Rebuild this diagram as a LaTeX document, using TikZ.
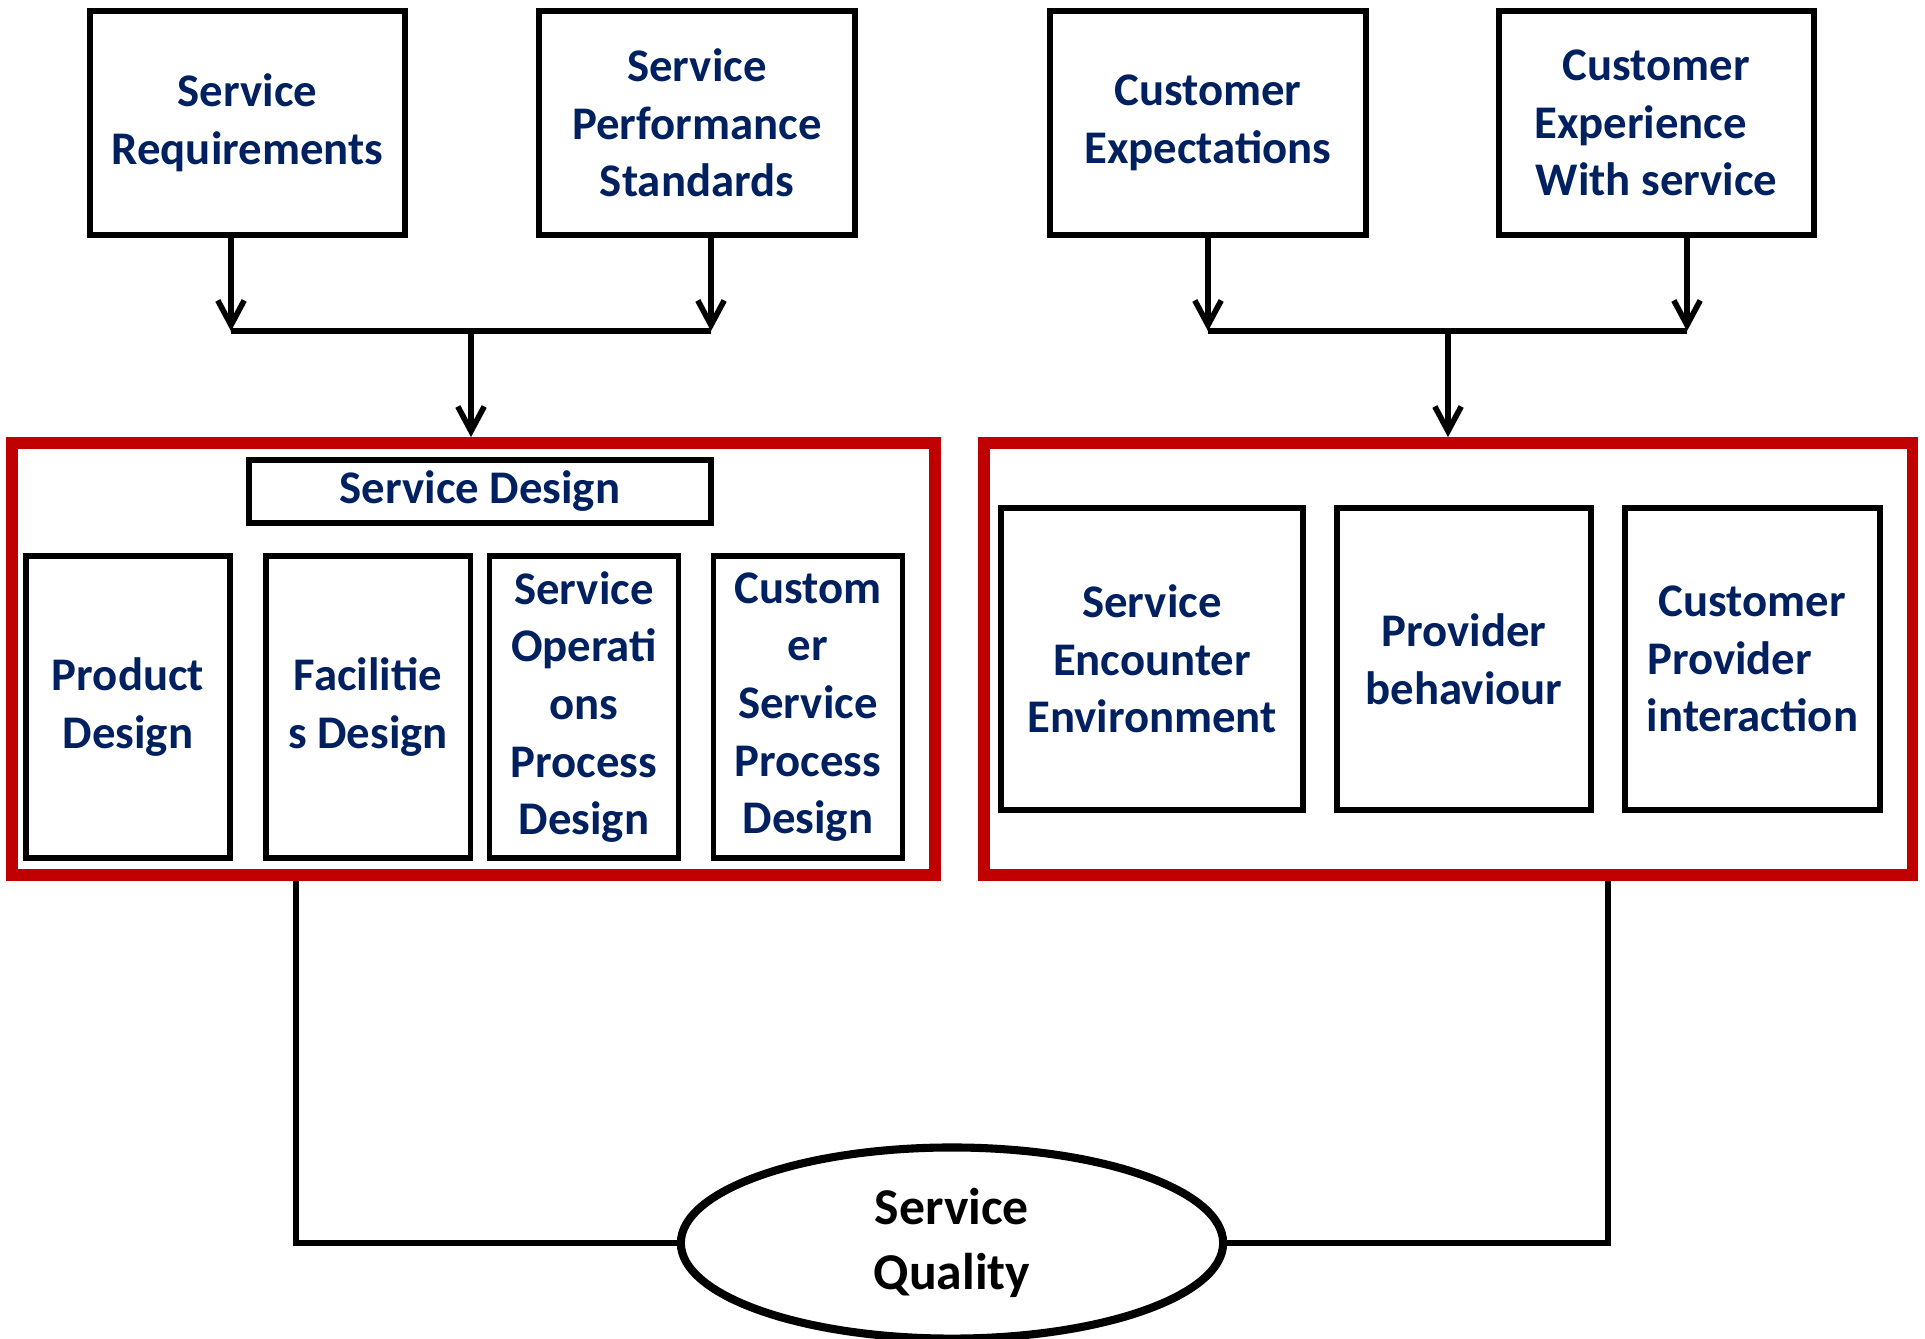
\documentclass[tikz,border=0pt]{standalone}
\usepackage{fontspec}
\setmainfont{Carlito}
\usepackage{tikz}
\usetikzlibrary{arrows.meta,positioning,shapes.geometric}

\definecolor{navy}{HTML}{002060}
\definecolor{framered}{HTML}{C00000}

\tikzset{
  box/.style={draw, line width=1.6pt, align=center, inner sep=0pt, text=navy,
    font=\fontsize{13.3}{16.4}\selectfont\bfseries},
  frame/.style={draw=framered, line width=3.3pt, inner sep=0pt},
  conn/.style={line width=1.6pt},
  arr/.style={conn, -{Straight Barb[length=7pt,width=7.5pt]}}
}

\begin{document}
\begin{tikzpicture}[x=0.01cm,y=-0.01cm]
\useasboundingbox (0,0) rectangle (1925,1338);

% top inputs
\node[box, minimum width=3.15cm, minimum height=2.24cm] (sreq) at (247.5,123) {Service\\Requirements};
\node[box, minimum width=3.16cm, minimum height=2.24cm] (sperf) at (697,123) {Service\\Performance\\Standards};
\node[box, minimum width=3.16cm, minimum height=2.24cm] (cexp) at (1208,123) {Customer\\Expectations};
\node[box, minimum width=3.15cm, minimum height=2.24cm] (cexpw) at (1656.5,123) {Customer\\Experience\rule{9pt}{0pt}\\With service};

% red frames
\node[frame, minimum width=9.23cm, minimum height=4.32cm] (design) at (473.5,659) {};
\node[frame, minimum width=9.28cm, minimum height=4.32cm] (delivery) at (1448,659) {};

% service design side
\node[box, minimum width=4.62cm, minimum height=0.63cm] (sdes) at (480,491.5) {Service Design};
\node[box, minimum width=2.04cm, minimum height=3.02cm] (prod) at (128,707) {Product\\Design};
\node[box, minimum width=2.045cm, minimum height=3.02cm] (facil) at (368,707) {Facilitie\\s Design};
\node[box, minimum width=1.886cm, minimum height=3.02cm] (sops) at (584,707) {Service\\Operati\\ons\\Process\\Design};
\node[box, minimum width=1.886cm, minimum height=3.02cm] (csp) at (808,707) {Custom\\er\\Service\\Process\\Design};

% delivery side
\node[box, minimum width=3.02cm, minimum height=3.02cm] (senc) at (1152,659) {Service\\Encounter\\Environment};
\node[box, minimum width=2.54cm, minimum height=3.02cm] (prov) at (1464,659) {Provider\\behaviour};
\node[box, minimum width=2.55cm, minimum height=3.02cm] (cpi) at (1752.5,659) {Customer\\Provider\rule{13pt}{0pt}\\interaction};

% outcome
\node[draw, ellipse, line width=2.3pt, inner sep=0pt, minimum width=5.42cm, minimum height=1.91cm,
  align=center, font=\fontsize{14.7}{18.4}\selectfont\bfseries] (quality) at (952,1243) {Service\\Quality};

% joins into the frames
\coordinate (jl1) at (231,331);
\coordinate (jl2) at (711,331);
\coordinate (jlm) at (471,331);
\coordinate (jr1) at (1208,331);
\coordinate (jr2) at (1687,331);
\coordinate (jrm) at (1448,331);

\draw[arr] (sreq.south -| jl1) -- (jl1);
\draw[arr] (sperf.south -| jl2) -- (jl2);
\draw[conn] (jl1) -- (jl2);
\draw[arr] (jlm) -- (jlm |- design.north);

\draw[arr] (cexp.south -| jr1) -- (jr1);
\draw[arr] (cexpw.south -| jr2) -- (jr2);
\draw[conn] (jr1) -- (jr2);
\draw[arr] (jrm) -- (jrm |- delivery.north);

% lines down to the ellipse
\coordinate (ql) at (296,1243);
\coordinate (qr) at (1608,1243);
\draw[conn] (ql |- design.south) -- (ql) -- (quality.west);
\draw[conn] (qr |- delivery.south) -- (qr) -- (quality.east);
\end{tikzpicture}
\end{document}
